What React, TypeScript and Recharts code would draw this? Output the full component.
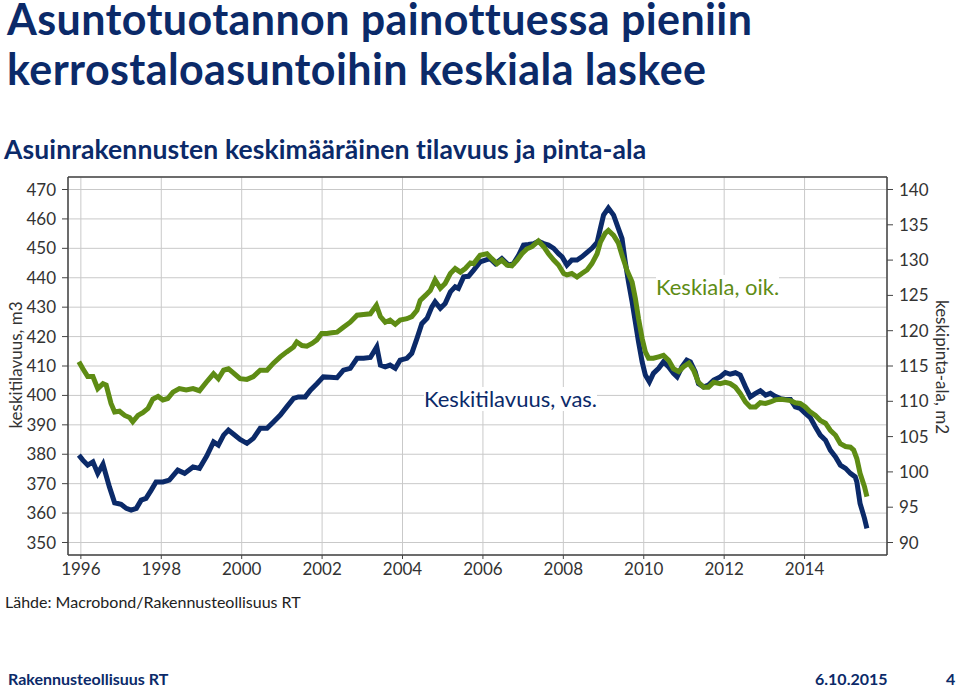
import React from "react";
import {
  LineChart,
  Line,
  XAxis,
  YAxis,
  CartesianGrid,
  ReferenceLine,
} from "recharts";

// keskitilavuus (m3), vasen akseli
const volumeYears = [
  1995.95, 1996.05, 1996.17, 1996.3, 1996.42, 1996.55, 1996.71, 1996.84, 1997.0,
  1997.13, 1997.25, 1997.38, 1997.5, 1997.62, 1997.75, 1997.87, 1998.04, 1998.2,
  1998.41, 1998.58, 1998.79, 1998.95, 1999.13, 1999.3, 1999.42, 1999.55, 1999.67,
  1999.8, 1999.96, 2000.13, 2000.29, 2000.46, 2000.63, 2000.79, 2000.96, 2001.12,
  2001.29, 2001.41, 2001.58, 2001.71, 2001.87, 2002.03, 2002.2, 2002.37, 2002.53,
  2002.7, 2002.87, 2003.03, 2003.2, 2003.36, 2003.45, 2003.57, 2003.69, 2003.82,
  2003.94, 2004.11, 2004.23, 2004.36, 2004.48, 2004.61, 2004.73, 2004.81, 2004.94,
  2005.06, 2005.19, 2005.31, 2005.39, 2005.52, 2005.64, 2005.77, 2005.93, 2006.06,
  2006.18, 2006.31, 2006.47, 2006.64, 2006.76, 2006.89, 2007.01, 2007.13, 2007.26,
  2007.38, 2007.51, 2007.63, 2007.76, 2007.88, 2007.97, 2008.09, 2008.21, 2008.34,
  2008.46, 2008.59, 2008.71, 2008.84, 2008.92, 2009.0, 2009.12, 2009.25, 2009.37,
  2009.46, 2009.54, 2009.62, 2009.71, 2009.79, 2009.87, 2009.96, 2010.04, 2010.14,
  2010.24, 2010.37, 2010.49, 2010.62, 2010.74, 2010.83, 2010.95, 2011.07, 2011.16,
  2011.28, 2011.36, 2011.49, 2011.61, 2011.74, 2011.9, 2012.03, 2012.15, 2012.28,
  2012.4, 2012.53, 2012.65, 2012.78, 2012.9, 2013.03, 2013.15, 2013.27, 2013.4,
  2013.52, 2013.65, 2013.77, 2013.89, 2014.02, 2014.14, 2014.27, 2014.39, 2014.52,
  2014.64, 2014.77, 2014.89, 2015.02, 2015.14, 2015.26, 2015.3, 2015.38, 2015.49,
  2015.55,
];
const volumeValues = [
  379.7, 378.0, 376.3, 377.4, 373.5, 376.6, 368.9, 363.5, 363.0,
  361.6, 361.0, 361.6, 364.4, 365.0, 367.8, 370.6, 370.6, 371.2,
  374.6, 373.5, 375.7, 375.2, 379.4, 384.2, 383.1, 386.5, 388.2,
  386.8, 385.0, 383.7, 385.4, 388.8, 388.8, 391.0, 393.3, 396.1,
  399.0, 399.5, 399.5, 401.8, 404.0, 406.3, 406.2, 406.0, 408.6,
  409.2, 412.6, 412.6, 412.9, 416.5, 410.3, 409.7, 410.3, 409.2,
  412.0, 412.6, 414.3, 419.4, 424.4, 426.2, 430.1, 431.8, 429.6,
  431.2, 435.2, 436.9, 436.4, 440.3, 440.5, 442.6, 445.4, 446.0,
  446.5, 444.8, 446.5, 444.3, 444.8, 447.7, 451.1, 451.3, 451.6,
  452.4, 451.6, 451.1, 450.0, 448.2, 447.1, 444.3, 446.0, 446.0,
  447.1, 448.6, 450.0, 452.0, 456.7, 461.3, 463.7, 461.3, 456.7,
  453.3, 445.4, 438.6, 431.8, 425.0, 418.2, 411.4, 406.9, 404.6,
  407.5, 409.2, 411.4, 409.7, 407.5, 406.3, 409.7, 412.0, 411.4,
  408.0, 404.0, 402.9, 403.5, 405.2, 406.3, 407.8, 407.2, 407.7,
  406.9, 402.9, 399.5, 400.7, 401.6, 400.1, 400.7, 399.7, 398.9,
  398.6, 398.6, 396.1, 395.6, 393.9, 392.5, 389.3, 386.5, 384.8,
  381.4, 379.1, 376.3, 375.2, 373.5, 372.3, 370.6, 363.3, 358.2,
  354.8,
];

// keskipinta-ala (m2), oikea akseli
const areaYears = [
  1995.95, 1996.05, 1996.17, 1996.3, 1996.42, 1996.55, 1996.63, 1996.75, 1996.84,
  1996.96, 1997.09, 1997.21, 1997.29, 1997.42, 1997.54, 1997.67, 1997.79, 1997.92,
  1998.04, 1998.16, 1998.29, 1998.45, 1998.62, 1998.79, 1998.95, 1999.12, 1999.3,
  1999.42, 1999.55, 1999.67, 1999.8, 1999.96, 2000.13, 2000.29, 2000.46, 2000.63,
  2000.79, 2000.96, 2001.12, 2001.29, 2001.37, 2001.5, 2001.62, 2001.75, 2001.87,
  2001.99, 2002.12, 2002.24, 2002.37, 2002.53, 2002.7, 2002.87, 2003.03, 2003.2,
  2003.35, 2003.45, 2003.57, 2003.69, 2003.82, 2003.94, 2004.11, 2004.23, 2004.36,
  2004.44, 2004.57, 2004.69, 2004.81, 2004.94, 2005.06, 2005.19, 2005.31, 2005.44,
  2005.56, 2005.69, 2005.77, 2005.93, 2006.1, 2006.22, 2006.35, 2006.47, 2006.6,
  2006.72, 2006.85, 2006.97, 2007.1, 2007.22, 2007.38, 2007.51, 2007.63, 2007.76,
  2007.88, 2008.01, 2008.09, 2008.21, 2008.34, 2008.46, 2008.59, 2008.71, 2008.84,
  2008.92, 2009.04, 2009.12, 2009.25, 2009.37, 2009.46, 2009.58, 2009.71, 2009.79,
  2009.87, 2009.96, 2010.04, 2010.12, 2010.24, 2010.37, 2010.49, 2010.62, 2010.74,
  2010.87, 2010.99, 2011.12, 2011.24, 2011.36, 2011.49, 2011.61, 2011.74, 2011.9,
  2012.03, 2012.15, 2012.28, 2012.4, 2012.53, 2012.65, 2012.78, 2012.9, 2013.03,
  2013.15, 2013.27, 2013.4, 2013.52, 2013.65, 2013.77, 2013.89, 2014.02, 2014.14,
  2014.27, 2014.39, 2014.52, 2014.64, 2014.77, 2014.89, 2015.02, 2015.14, 2015.22,
  2015.3, 2015.38, 2015.49, 2015.55,
];
const areaValues = [
  115.6, 114.6, 113.5, 113.5, 111.8, 112.5, 112.3, 109.7, 108.5,
  108.6, 108.0, 107.7, 107.1, 108.0, 108.4, 109.0, 110.3, 110.7,
  110.2, 110.4, 111.3, 111.8, 111.6, 111.8, 111.5, 112.7, 113.9,
  113.2, 114.4, 114.6, 114.0, 113.2, 113.1, 113.5, 114.4, 114.4,
  115.4, 116.3, 117.0, 117.7, 118.4, 117.9, 117.8, 118.2, 118.7,
  119.6, 119.6, 119.7, 119.8, 120.5, 121.2, 122.2, 122.3, 122.4,
  123.6, 122.0, 121.2, 121.5, 120.9, 121.5, 121.7, 122.0, 122.9,
  124.3, 125.0, 125.7, 127.2, 126.0, 126.7, 128.1, 128.8, 128.3,
  128.8, 129.6, 129.5, 130.7, 130.9, 130.2, 129.5, 130.0, 129.3,
  129.2, 130.0, 130.9, 131.6, 131.9, 132.7, 131.9, 130.9, 130.0,
  129.3, 128.1, 127.9, 128.1, 127.6, 128.1, 128.6, 129.5, 130.9,
  132.5, 133.8, 134.2, 133.5, 132.4, 130.7, 128.6, 126.9, 124.6,
  121.7, 118.9, 117.0, 116.1, 116.1, 116.3, 116.5, 115.8, 114.6,
  114.2, 114.9, 115.4, 114.4, 112.7, 112.0, 112.0, 112.7, 112.5,
  112.7, 112.5, 112.0, 111.1, 109.9, 109.2, 109.2, 109.8, 109.7,
  109.9, 110.2, 110.3, 110.2, 110.1, 109.8, 109.7, 109.2, 108.5,
  108.0, 107.3, 106.9, 105.9, 105.2, 104.0, 103.6, 103.5, 103.1,
  101.9, 99.8, 97.9, 96.5,
];

const yearTicks = [1996, 1998, 2000, 2002, 2004, 2006, 2008, 2010, 2012, 2014];
const volumeTicks = [350, 360, 370, 380, 390, 400, 410, 420, 430, 440, 450, 460, 470];
const areaTicks = [90, 95, 100, 105, 110, 115, 120, 125, 130, 135, 140];

const NAVY = "#0b2a69";
const GREEN = "#5e8c14";
const FONT = "Lato, 'Open Sans', sans-serif";

const volumeData = volumeYears.map((year, i) => ({ year, value: volumeValues[i] }));
const areaData = areaYears.map((year, i) => ({ year, value: areaValues[i] }));

const tickStyle = { fill: "#333", fontSize: 17, fontFamily: FONT };

const titleLine = {
  position: "absolute" as const,
  left: 7,
  fontSize: 43,
  fontWeight: 700,
  color: NAVY,
  lineHeight: "36px",
  letterSpacing: "0.4px",
  whiteSpace: "nowrap" as const,
};

const footerText = {
  position: "absolute" as const,
  top: 671,
  fontSize: 16,
  lineHeight: "16px",
  fontWeight: 700,
  color: NAVY,
  whiteSpace: "nowrap" as const,
};

export default function App() {
  return (
    <div
      style={{
        position: "absolute",
        top: 0,
        left: 0,
        width: 959,
        height: 687,
        background: "#fff",
        fontFamily: FONT,
        overflow: "hidden",
      }}
    >
      {/* Otsikot */}
      <div style={{ ...titleLine, top: 1 }}>Asuntotuotannon painottuessa pieniin</div>
      <div style={{ ...titleLine, top: 51 }}>kerrostaloasuntoihin keskiala laskee</div>
      <div
        style={{
          position: "absolute",
          left: 4,
          top: 134,
          fontSize: 26.5,
          lineHeight: "30px",
          fontWeight: 700,
          color: NAVY,
          letterSpacing: "0.1px",
          whiteSpace: "nowrap",
        }}
      >
        Asuinrakennusten keskimääräinen tilavuus ja pinta-ala
      </div>

      <LineChart
        width={959}
        height={687}
        margin={{ top: 177, right: 0, bottom: 102, left: 0 }}
        style={{ position: "absolute", top: 0, left: 0 }}
      >
        <CartesianGrid yAxisId="left" stroke="#c9c9c9" strokeWidth={1} />
        <XAxis
          dataKey="year"
          type="number"
          domain={[1995.68, 2016.05]}
          ticks={yearTicks}
          allowDataOverflow
          height={30}
          tickSize={4}
          tickMargin={4}
          tick={tickStyle}
          axisLine={{ stroke: "#444", strokeWidth: 1.5 }}
          tickLine={{ stroke: "#444" }}
        />
        <YAxis
          yAxisId="left"
          orientation="left"
          width={68}
          domain={[345.75, 474.25]}
          ticks={volumeTicks}
          allowDataOverflow
          tickSize={6}
          tickMargin={6}
          tick={tickStyle}
          axisLine={{ stroke: "#444", strokeWidth: 1.5 }}
          tickLine={{ stroke: "#444" }}
        />
        <YAxis
          yAxisId="right"
          orientation="right"
          width={72}
          domain={[88.23, 141.77]}
          ticks={areaTicks}
          allowDataOverflow
          tickSize={6}
          tickMargin={6}
          tick={tickStyle}
          axisLine={{ stroke: "#444", strokeWidth: 1.5 }}
          tickLine={{ stroke: "#444" }}
        />
        <ReferenceLine yAxisId="left" y={474.25} stroke="#444" strokeWidth={1.5} />
        <Line
          yAxisId="left"
          data={volumeData}
          dataKey="value"
          type="linear"
          stroke={NAVY}
          strokeWidth={5}
          dot={false}
          isAnimationActive={false}
        />
        <Line
          yAxisId="right"
          data={areaData}
          dataKey="value"
          type="linear"
          stroke={GREEN}
          strokeWidth={5}
          dot={false}
          isAnimationActive={false}
        />
      </LineChart>

      {/* Sarjojen nimet */}
      <div
        style={{
          position: "absolute",
          left: 424,
          top: 387,
          fontSize: 22,
          lineHeight: "24px",
          color: NAVY,
          background: "#fff",
          whiteSpace: "nowrap",
        }}
      >
        Keskitilavuus, vas.
      </div>
      <div
        style={{
          position: "absolute",
          left: 656,
          top: 275,
          fontSize: 22,
          lineHeight: "24px",
          color: GREEN,
          background: "#fff",
          whiteSpace: "nowrap",
        }}
      >
        Keskiala, oik.
      </div>

      {/* Akselien otsikot */}
      <div
        style={{
          position: "absolute",
          left: 15,
          top: 365,
          fontSize: 17,
          color: "#333",
          whiteSpace: "nowrap",
          transform: "translate(-50%, -50%) rotate(-90deg)",
        }}
      >
        keskitilavuus, m3
      </div>
      <div
        style={{
          position: "absolute",
          left: 942,
          top: 367,
          fontSize: 17,
          color: "#333",
          whiteSpace: "nowrap",
          transform: "translate(-50%, -50%) rotate(90deg)",
        }}
      >
        keskipinta-ala, m2
      </div>

      {/* Lähde ja alatunniste */}
      <div
        style={{
          position: "absolute",
          left: 5,
          top: 592,
          fontSize: 16,
          color: "#222",
          whiteSpace: "nowrap",
        }}
      >
        Lähde: Macrobond/Rakennusteollisuus RT
      </div>
      <div style={{ ...footerText, left: 8 }}>Rakennusteollisuus RT</div>
      <div style={{ ...footerText, left: 815 }}>6.10.2015</div>
      <div style={{ ...footerText, left: 946 }}>4</div>
    </div>
  );
}
